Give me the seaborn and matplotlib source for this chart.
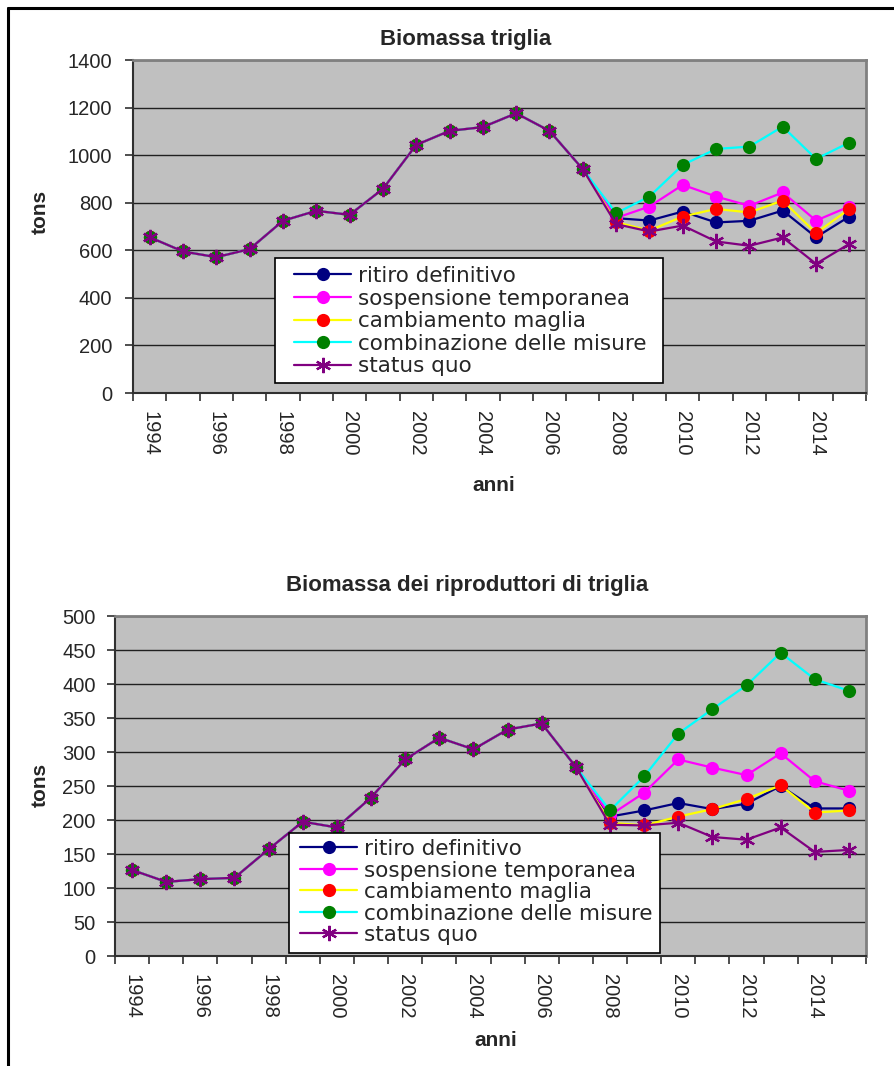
import numpy as np
import pandas as pd
import seaborn as sns
import matplotlib.pyplot as plt
from matplotlib.lines import Line2D
from matplotlib.patches import Rectangle
from matplotlib.ticker import FixedLocator

# %% data
years_hist = list(range(1994, 2008))
years_proj = list(range(2008, 2016))

names = ["ritiro definitivo", "sospensione temporanea", "cambiamento maglia",
         "combinazione delle misure", "status quo"]

# Biomassa triglia (tons)
bio_hist = [655, 595, 571, 605, 724, 766, 749, 858, 1043, 1102, 1118, 1176, 1102, 941]
bio_ritiro = [735, 725, 763, 717, 724, 767, 655, 742]
bio_sospensione = [736, 784, 875, 826, 787, 843, 725, 784]
bio_cambiamento = [718, 683, 742, 774, 759, 809, 672, 774]
bio_combinazione = [756, 826, 959, 1026, 1036, 1120, 984, 1053]
bio_status = [710, 679, 704, 637, 619, 654, 543, 627]

# Biomassa dei riproduttori di triglia (tons)
rip_hist = [126.5, 109, 113, 115, 157, 197.5, 189, 233, 289, 321, 304, 333, 342, 278]
rip_ritiro = [205, 214, 225, 216, 224, 250, 217, 217]
rip_sospensione = [207, 240, 289, 277, 266, 298, 257, 243]
rip_cambiamento = [196, 192, 205, 216, 231, 251, 211, 214]
rip_combinazione = [214, 264, 327, 363, 398, 446, 407, 390]
rip_status = [193, 192, 196, 175, 171, 189, 153, 156]

line_colors = ["#000080", "#FF00FF", "#FFFF00", "#00FFFF", "#800080"]
marker_colors = ["#000080", "#FF00FF", "#FF0000", "#008000", "#800080"]


def long_table(hist, proj_list):
    rows = []
    for name, proj in zip(names, proj_list):
        for y, v in zip(years_hist + years_proj, hist + proj):
            rows.append((name, y, v))
    return pd.DataFrame(rows, columns=["serie", "anno", "tons"])


df_bio = long_table(bio_hist, [bio_ritiro, bio_sospensione, bio_cambiamento,
                               bio_combinazione, bio_status])
df_rip = long_table(rip_hist, [rip_ritiro, rip_sospensione, rip_cambiamento,
                               rip_combinazione, rip_status])

# %% style
sns.set_theme(style="white")
plt.rcParams["font.family"] = ["Liberation Sans", "DejaVu Sans"]

W, H = 894, 1066
fig = plt.figure(figsize=(W / 100, H / 100), dpi=100)


def px_box(l, t, r, b):
    return [l / W, 1 - b / H, (r - l) / W, (b - t) / H]


def draw(ax, df, ymax, ystep, box, leg_at, spacing, ypad):
    # box / leg_at in figure pixels: legend frame and top-left of the entries
    for i, name in enumerate(names):
        sub = df[df["serie"] == name]
        if name == "status quo":
            mk = dict(marker=(6, 2, 0), markersize=11, markeredgewidth=1.6)
        else:
            mk = dict(marker="o", markersize=9.5, markeredgewidth=0)
        sns.lineplot(data=sub, x="anno", y="tons", ax=ax, color=line_colors[i],
                     lw=1.6, markerfacecolor=marker_colors[i],
                     markeredgecolor=marker_colors[i], label=name, zorder=3 + i,
                     **mk)
    ax.set_facecolor("#C0C0C0")
    ax.set_xlim(1993.5, 2015.5)
    ax.set_ylim(0, ymax)
    ax.yaxis.set_major_locator(FixedLocator(np.arange(0, ymax + 1, ystep)))
    ax.grid(axis="y", color="#202020", lw=1)
    ax.set_axisbelow(True)
    ax.xaxis.set_major_locator(FixedLocator(range(1994, 2016, 2)))
    ax.xaxis.set_minor_locator(FixedLocator(np.arange(1993.5, 2016, 1)))
    ax.tick_params(axis="x", which="major", length=0, pad=13, labelsize=14.5,
                   labelrotation=270)
    ax.tick_params(axis="x", which="minor", length=6, width=1.2, color="#303030",
                   direction="out", bottom=True)
    ax.tick_params(axis="y", length=6, width=1.2, color="#303030", direction="out",
                   left=True, pad=ypad, labelsize=14.5)
    for lab in ax.get_xticklabels():
        lab.set_va("top")
        lab.set_ha("center")
    ax.set_xlabel("")
    ax.set_ylabel("")
    for s in ["left", "bottom"]:
        ax.spines[s].set_color("#303030")
        ax.spines[s].set_linewidth(1.5)
    for s in ["top", "right"]:
        ax.spines[s].set_color("#808080")
        ax.spines[s].set_linewidth(2)

    l, t, r, b = box
    ax.add_patch(Rectangle((l / W, 1 - b / H), (r - l) / W, (b - t) / H,
                           transform=fig.transFigure, facecolor="white",
                           edgecolor="black", lw=1.2, zorder=15, clip_on=False))
    leg = ax.legend(loc="upper left",
                    bbox_to_anchor=(leg_at[0] / W, 1 - leg_at[1] / H),
                    bbox_transform=fig.transFigure, borderaxespad=0, borderpad=0,
                    frameon=False, handlelength=2.65, handletextpad=0.32,
                    labelspacing=spacing,
                    prop=dict(family="DejaVu Sans", size=15.5))
    leg.set_zorder(20)


ax1 = fig.add_axes(px_box(133, 60, 866, 393))
draw(ax1, df_bio, 1400, 200, (275, 258, 663, 383), (294, 266), 0.12, 9)

ax2 = fig.add_axes(px_box(115, 616, 866, 956))
draw(ax2, df_rip, 500, 50, (289, 833, 660, 953), (300, 839), 0.07, 8)

# titles and axis labels
bold = dict(fontweight="bold", ha="center", va="center")
fig.text(466 / W, 1 - 40 / H, "Biomassa triglia", fontsize=16, **bold)
fig.text(467 / W, 1 - 585 / H, "Biomassa dei riproduttori di triglia", fontsize=16, **bold)
fig.text(40 / W, 1 - 212 / H, "tons", fontsize=15, rotation=90, **bold)
fig.text(40 / W, 1 - 785 / H, "tons", fontsize=15, rotation=90, **bold)
fig.text(494 / W, 1 - 485 / H, "anni", fontsize=15, **bold)
fig.text(496 / W, 1 - 1040 / H, "anni", fontsize=15, **bold)

# outer frame (left and top edges visible)
fig.add_artist(Line2D([8 / W, 8 / W], [0, 1 - 8 / H], color="black", lw=2.2,
                      transform=fig.transFigure))
fig.add_artist(Line2D([8 / W, 1], [1 - 8 / H, 1 - 8 / H], color="black", lw=2.2,
                      transform=fig.transFigure))

fig.savefig("out.png", dpi=100, facecolor="white")
